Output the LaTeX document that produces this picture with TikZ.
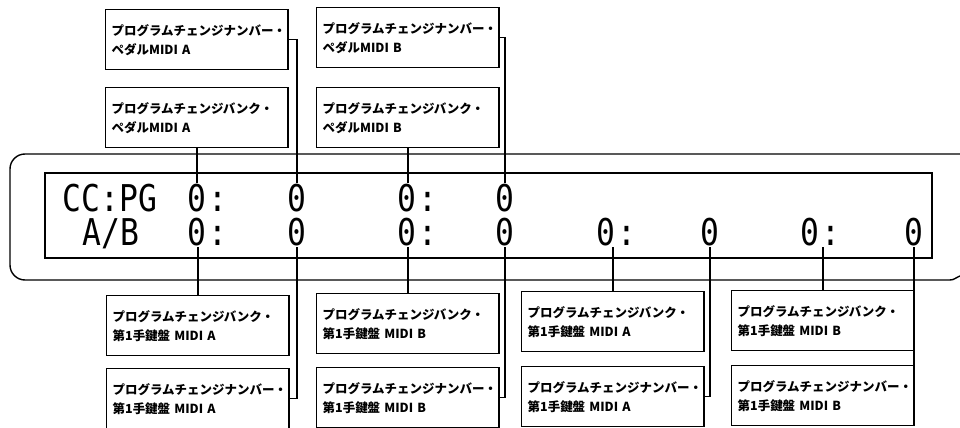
\documentclass[tikz,border=0pt]{standalone}
\usepackage{fontspec}
\newfontfamily\jpfont{Noto Sans CJK JP}
\newfontfamily\lcdfont{DejaVu Sans Mono}[FakeStretch=0.85]
\usetikzlibrary{positioning}

\tikzset{
  namebox/.style={draw, line width=0.8pt, anchor=north west, minimum width=3.65cm,
    minimum height=1.2cm, text width=3.41cm, inner xsep=0.12cm, align=left,
    font=\jpfont\bfseries\fontsize{7.1}{10.8}\selectfont},
  lcd/.style={inner sep=0.5pt, text height=15.5pt, text depth=0pt,
    font=\lcdfont\fontsize{21}{21}\selectfont},
  wire/.style={line width=0.8pt},
}

\begin{document}
\begin{tikzpicture}[x=0.02cm, y=-0.02cm]
    \useasboundingbox (0,0) rectangle (960,428);
    % Display frame
    \draw[wire, rounded corners=0.3cm] (960,154) -- (10,154) -- (10,280) -- (950,280);
    \draw[wire] (950,280) to[out=0, in=-160] (960,276);
    \draw[wire] (45,173) rectangle (932,258);
    % Display text
    \node[lcd] (cc) at (110,198) {CC:PG};
    \node[lcd] (ab) at (111,232) {A/B};
    % Upper row of values
    \node[lcd] (t1) at (197,198) {0};
    \node[lcd, right=0pt of t1] (c1) {:};
    \node[lcd] (t2) at (297,198) {0};
    \node[lcd] (t3) at (407,198) {0};
    \node[lcd, right=0pt of t3] (c3) {:};
    \node[lcd] (t4) at (505,198) {0};
    % Lower row of values
    \node[lcd] (b1) at (197,232) {0};
    \node[lcd, right=0pt of b1] (d1) {:};
    \node[lcd] (b2) at (297,232) {0};
    \node[lcd] (b3) at (407,232) {0};
    \node[lcd, right=0pt of b3] (d3) {:};
    \node[lcd] (b4) at (505,232) {0};
    \node[lcd] (b5) at (606,232) {0};
    \node[lcd, right=0pt of b5] (d5) {:};
    \node[lcd] (b6) at (710,232) {0};
    \node[lcd] (b7) at (810,232) {0};
    \node[lcd, right=0pt of b7] (d7) {:};
    \node[lcd] (b8) at (914,232) {0};
    % Pedal boxes
    \node[namebox] (pnA) at (105,9) {プログラムチェンジナンバー・\\ペダルMIDI A};
    \node[namebox] (pbA) at (105,87) {プログラムチェンジバンク・\\ペダルMIDI A};
    \node[namebox] (pnB) at (316,7) {プログラムチェンジナンバー・\\ペダルMIDI B};
    \node[namebox] (pbB) at (316,87) {プログラムチェンジバンク・\\ペダルMIDI B};
    % Manual boxes
    \node[namebox] (mbA1) at (106,295) {プログラムチェンジバンク・\\第1手鍵盤 MIDI A};
    \node[namebox] (mnA1) at (106,368) {プログラムチェンジナンバー・\\第1手鍵盤 MIDI A};
    \node[namebox] (mbB1) at (316,293) {プログラムチェンジバンク・\\第1手鍵盤 MIDI B};
    \node[namebox] (mnB1) at (316,367) {プログラムチェンジナンバー・\\第1手鍵盤 MIDI B};
    \node[namebox] (mbA2) at (521,291) {プログラムチェンジバンク・\\第1手鍵盤 MIDI A};
    \node[namebox] (mnA2) at (521,366) {プログラムチェンジナンバー・\\第1手鍵盤 MIDI A};
    \node[namebox] (mbB2) at (731,290) {プログラムチェンジバンク・\\第1手鍵盤 MIDI B};
    \node[namebox] (mnB2) at (731,365) {プログラムチェンジナンバー・\\第1手鍵盤 MIDI B};
    % Leaders to the upper row
    \draw[wire] (pbA.south) -- (pbA.south |- t1.north);
    \draw[wire] (pnA.east) -| (t2.north);
    \draw[wire] (pbB.south) -- (pbB.south |- t3.north);
    \draw[wire] (pnB.east) -| (t4.north);
    % Leaders to the lower row
    \draw[wire] (mbA1.north) -- (mbA1.north |- b1.south);
    \draw[wire] (mnA1.east) -| (b2.south);
    \draw[wire] (mbB1.north) -- (mbB1.north |- b3.south);
    \draw[wire] (mnB1.east) -| (b4.south);
    \draw[wire] (mbA2.north) -- (mbA2.north |- b5.south);
    \draw[wire] (mnA2.east) -| (b6.south);
    \draw[wire] (mbB2.north) -- (mbB2.north |- b7.south);
    \draw[wire] (mnB2.east) -| (b8.south);
\end{tikzpicture}
\end{document}
